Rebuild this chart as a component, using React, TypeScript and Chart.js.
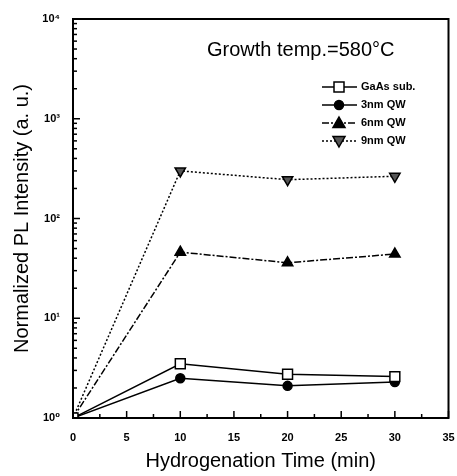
import React, { useEffect, useRef } from 'react';
import { Chart, registerables } from 'chart.js';
Chart.register(...registerables);

const times = [0, 10, 20, 30];
const gaasSub = [1, 3.5, 2.75, 2.6];
const qw3 = [1, 2.5, 2.1, 2.3];
const qw6 = [1, 46, 36, 44];
const qw9 = [1, 300, 245, 265];
const seriesNames = ['GaAs sub.', '3nm QW', '6nm QW', '9nm QW'];
const xTickValues = [0, 5, 10, 15, 20, 25, 30, 35];
const yDecades = [1, 10, 100, 1000, 10000];
const yTickLabels = ['10⁰', '10¹', '10²', '10³', '10⁴'];
const titleText = 'Growth temp.=580°C';
const xTitle = 'Hydrogenation Time (min)';
const yTitle = 'Normalized PL Intensity (a. u.)';

const dashes: number[][] = [[], [], [7, 2, 2, 2], [2, 2]];
const styles = ['rect', 'circle', 'triangle', 'triangle'];
const rotations = [0, 0, 0, 180];
const fills = ['#ffffff', '#000000', '#000000', '#555555'];
const radii = [5, 4.5, 6, 6];
const pointRadii = [7, 4.5, 6, 6];

function drawMarker(ctx: CanvasRenderingContext2D, i: number, x: number, y: number) {
  ctx.save();
  ctx.fillStyle = fills[i];
  ctx.strokeStyle = '#000';
  ctx.lineWidth = 1.5;
  ctx.setLineDash([]);
  ctx.beginPath();
  const r = radii[i];
  if (i === 0) {
    ctx.rect(x - r, y - r, 2 * r, 2 * r);
  } else if (i === 1) {
    ctx.arc(x, y, r, 0, Math.PI * 2);
  } else if (i === 2) {
    ctx.moveTo(x, y - r);
    ctx.lineTo(x + r, y + r * 0.75);
    ctx.lineTo(x - r, y + r * 0.75);
    ctx.closePath();
  } else {
    ctx.moveTo(x, y + r);
    ctx.lineTo(x + r, y - r * 0.75);
    ctx.lineTo(x - r, y - r * 0.75);
    ctx.closePath();
  }
  ctx.fill();
  ctx.stroke();
  ctx.restore();
}

const decor = {
  id: 'decor',
  afterDraw(chart: any) {
    const ctx: CanvasRenderingContext2D = chart.ctx;
    const a = chart.chartArea;
    const xs = chart.scales.x;
    const ys = chart.scales.y;
    ctx.save();
    ctx.strokeStyle = '#000';
    ctx.lineWidth = 1.5;
    for (let v = 0; v <= 35; v += 2.5) {
      const px = xs.getPixelForValue(v);
      const len = v % 5 === 0 ? 7 : 4;
      ctx.beginPath();
      ctx.moveTo(px, a.bottom);
      ctx.lineTo(px, a.bottom - len);
      ctx.stroke();
    }
    for (let d = 0; d < 4; d++) {
      for (let k = 1; k <= 9; k++) {
        const val = k * Math.pow(10, d);
        const py = ys.getPixelForValue(val);
        const len = k === 1 ? 7 : 4;
        ctx.beginPath();
        ctx.moveTo(a.left, py);
        ctx.lineTo(a.left + len, py);
        ctx.stroke();
      }
    }
    ctx.lineWidth = 2;
    ctx.strokeRect(a.left, a.top, a.right - a.left, a.bottom - a.top);
    ctx.fillStyle = '#000';
    ctx.font = '20px Arial, "Liberation Sans", sans-serif';
    ctx.textAlign = 'left';
    ctx.textBaseline = 'middle';
    ctx.fillText(titleText, a.left + 134, a.top + 31);
    ctx.font = 'bold 11px Arial, "Liberation Sans", sans-serif';
    for (let i = 0; i < seriesNames.length; i++) {
      const y = a.top + 68 + i * 18;
      const x0 = a.left + 249;
      ctx.lineWidth = 1.5;
      ctx.setLineDash(dashes[i]);
      ctx.beginPath();
      ctx.moveTo(x0, y);
      ctx.lineTo(x0 + 35, y);
      ctx.stroke();
      ctx.setLineDash([]);
      drawMarker(ctx, i, x0 + 17, y);
      ctx.fillStyle = '#000';
      ctx.fillText(seriesNames[i], x0 + 39, y);
    }
    ctx.restore();
  },
};

export default function App() {
  const ref = useRef<HTMLCanvasElement | null>(null);
  useEffect(() => {
    if (!ref.current) return;
    const series = [gaasSub, qw3, qw6, qw9];
    const chart = new Chart(ref.current, {
      type: 'line',
      data: {
        datasets: series.map((s, i) => ({
          label: seriesNames[i],
          data: times.map((t, j) => ({ x: t, y: s[j] })),
          borderColor: '#000',
          borderWidth: 1.5,
          borderDash: dashes[i],
          backgroundColor: fills[i],
          pointStyle: styles[i] as any,
          pointRotation: rotations[i],
          pointRadius: pointRadii[i],
          pointBorderWidth: 1.5,
          pointBorderColor: '#000',
          pointBackgroundColor: fills[i],
          fill: false,
          tension: 0,
        })),
      },
      options: {
        animation: false,
        responsive: false,
        layout: { padding: { left: 0, right: 5, top: 19, bottom: 0 } },
        plugins: { legend: { display: false }, tooltip: { enabled: false }, title: { display: false } },
        scales: {
          x: {
            type: 'linear',
            min: 0,
            max: 35,
            afterBuildTicks: (s: any) => {
              s.ticks = xTickValues.map((v) => ({ value: v }));
            },
            ticks: {
              color: '#000',
              font: { family: 'Arial, "Liberation Sans", sans-serif', size: 11, weight: 'bold' },
              padding: 5,
              maxRotation: 0,
              autoSkip: false,
            },
            grid: { display: false },
            border: { display: true, color: '#000', width: 2 },
            title: {
              display: true,
              text: xTitle,
              color: '#000',
              font: { family: 'Arial, "Liberation Sans", sans-serif', size: 20 },
              padding: { top: 0, bottom: 3 },
            },
            afterFit: (s: any) => {
              s.height = 58;
              s.paddingRight = 3;
            },
          },
          y: {
            type: 'logarithmic',
            min: 1,
            max: 10000,
            afterBuildTicks: (s: any) => {
              s.ticks = yDecades.map((v) => ({ value: v }));
            },
            ticks: {
              color: '#000',
              font: { family: 'Arial, "Liberation Sans", "DejaVu Sans", sans-serif', size: 11, weight: 'bold' },
              padding: 5,
              autoSkip: false,
              callback: (v: any) => {
                const idx = yDecades.indexOf(Number(v));
                return idx >= 0 ? yTickLabels[idx] : '';
              },
            },
            grid: { display: false },
            border: { display: true, color: '#000', width: 2 },
            title: {
              display: true,
              text: yTitle,
              color: '#000',
              font: { family: 'Arial, "Liberation Sans", sans-serif', size: 20 },
              padding: { top: 10, bottom: 0 },
            },
            afterFit: (s: any) => {
              s.width = 73;
            },
          },
        },
      },
      plugins: [decor],
    });
    return () => chart.destroy();
  }, []);
  return (
    <div style={{ position: 'absolute', left: 0, top: 0, width: 457, height: 476, background: '#fff' }}>
      <canvas ref={ref} width={457} height={476} style={{ display: 'block' }} />
    </div>
  );
}
